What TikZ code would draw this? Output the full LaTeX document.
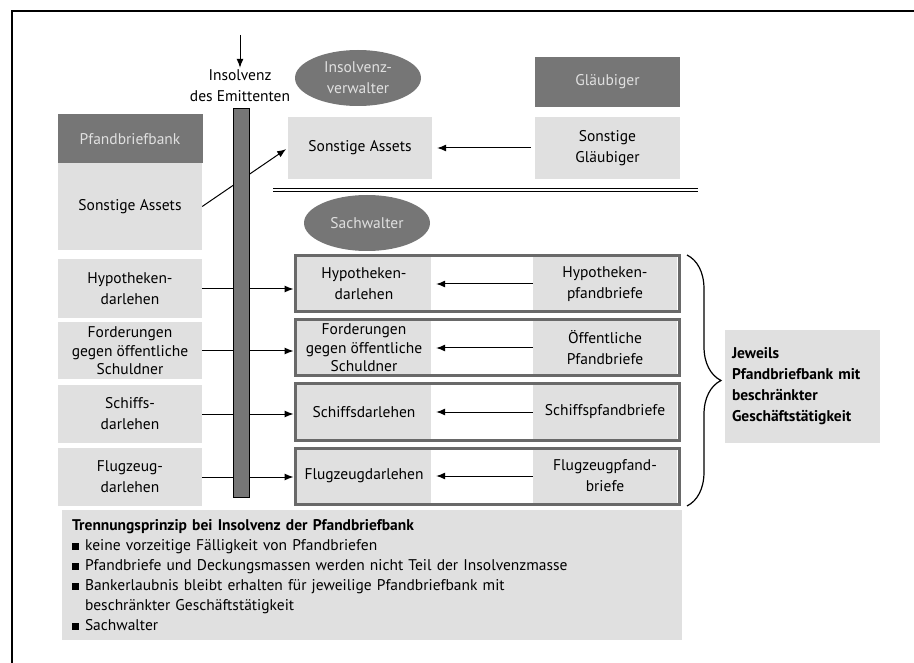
\documentclass[tikz,border=0pt]{standalone}
\usepackage{fontspec}
\setmainfont{PT Sans}
\usetikzlibrary{shapes,arrows.meta,decorations.pathreplacing}
\definecolor{pb_dark}{RGB}{118,118,118}
\definecolor{pb_light}{RGB}{224,224,224}
\definecolor{pb_frame}{RGB}{105,105,105}
\tikzstyle{hd}=[rectangle,fill=pb_dark,text=pb_light,inner sep=0pt,
  minimum width=145pt,minimum height=49pt]
\tikzstyle{lb}=[rectangle,fill=pb_light,align=center,inner sep=0pt,
  minimum width=144pt]
\tikzstyle{ov}=[ellipse,fill=pb_dark,text=pb_light,align=center,inner sep=0pt,
  minimum width=126pt,minimum height=56pt]
\tikzstyle{fr}=[rectangle,draw=pb_frame,fill=white,line width=3pt,
  minimum width=384pt,minimum height=56pt]
\tikzstyle{cell}=[rectangle,fill=pb_light,align=center,inner sep=0pt,
  minimum height=53pt]
\tikzstyle{tight}=[font=\fontsize{15.5}{18.5}\selectfont]
\tikzstyle{arr}=[-{Latex[length=9pt,width=7pt]},line width=1pt]
\newcommand{\pbbullet}{\makebox[13pt][l]{\rule[0.5pt]{6.5pt}{6.5pt}}}

\begin{document}
\begin{tikzpicture}[x=1pt,y=-1pt,font=\fontsize{15.5}{21}\selectfont]
    \useasboundingbox (0,0) rectangle (914,663);
    \coordinate (c00) at (12,11);
    \coordinate (c10) at (914,11);
    \coordinate (c01) at (12,663);
    \draw [line width=1.2pt] (c10) -- (c00) -- (c01);
    % Pfandbriefbank
    \node [style=hd] (pbank) at (130,139) {Pfandbriefbank};
    \node [style=lb,minimum height=87pt] (sal) at (130,206.5) {Sonstige Assets};
    \node [style=lb,minimum height=59pt] (hypl) at (130,289) {Hypotheken-\\darlehen};
    \node [style=lb,style=tight,minimum height=57pt] (fordl) at (130,351) {Forderungen\\gegen öffentliche\\Schuldner};
    \node [style=lb,minimum height=57pt] (schl) at (130,414) {Schiffs-\\darlehen};
    \node [style=lb,minimum height=58pt] (flugl) at (130,477) {Flugzeug-\\darlehen};
    % insolvency
    \coordinate (hit) at (240,35);
    \node [align=center,inner sep=2pt] (emit) at (240,86) {Insolvenz\\des Emittenten};
    \draw [arr] (hit) to (emit.north);
    % insolvency estate
    \node [style=ov] (iv) at (358,78) {Insolvenz-\\verwalter};
    \node [style=lb,minimum height=62pt] (sat) at (360,148) {Sonstige Assets};
    \node [style=hd,minimum height=50pt] (glb) at (607.5,82) {Gläubiger};
    \node [style=lb,minimum width=145pt,minimum height=62pt] (sgl) at (607.5,148) {Sonstige\\Gläubiger};
    \draw [arr,shorten <=4pt,shorten >=5pt] (sgl.west) to (sat.east);
    \draw [arr,shorten >=2pt] (sal.east) to (sat.west);
    \coordinate (sepl) at (273,190);
    \coordinate (sepr) at (698,190);
    \draw [double,double distance=2pt,line width=1pt] (sepl) to (sepr);
    % cover pools
    \node [style=ov] (sw) at (367,223) {Sachwalter};
    \node [style=fr] (hypf) at (487,284) {};
    \node [style=fr] (fordf) at (487,348) {};
    \node [style=fr] (schf) at (487,412) {};
    \node [style=fr] (flugf) at (487,476) {};
    \node [style=cell,minimum width=134pt] (hypd) at (364,284) {Hypotheken-\\darlehen};
    \node [style=cell,minimum width=144pt] (hypp) at (605,284) {Hypotheken-\\pfandbriefe};
    \node [style=cell,style=tight,minimum width=134pt] (fordd) at (364,348) {Forderungen\\gegen öffentliche\\Schuldner};
    \node [style=cell,minimum width=144pt] (fordp) at (605,348) {Öffentliche\\Pfandbriefe};
    \node [style=cell,minimum width=134pt] (schd) at (364,412) {Schiffsdarlehen};
    \node [style=cell,minimum width=144pt] (schp) at (605,412) {Schiffspfandbriefe};
    \node [style=cell,minimum width=134pt] (flugd) at (364,476) {Flugzeugdarlehen};
    \node [style=cell,minimum width=144pt] (flugp) at (605,476) {Flugzeugpfand-\\briefe};
    \draw [arr,shorten >=5pt] (hypp.west) to (hypd.east);
    \draw [arr,shorten >=5pt] (fordp.west) to (fordd.east);
    \draw [arr,shorten >=5pt] (schp.west) to (schd.east);
    \draw [arr,shorten >=5pt] (flugp.west) to (flugd.east);
    \draw [arr] (hypl.east) to (hypl.east -| hypf.west);
    \draw [arr] (fordl.east) to (fordl.east -| fordf.west);
    \draw [arr] (schl.east) to (schl.east -| schf.west);
    \draw [arr] (flugl.east) to (flugl.east -| flugf.west);
    \node [rectangle,fill=pb_dark,draw=black,line width=0.6pt,minimum width=16pt,
      minimum height=389pt,inner sep=0pt] (wall) at (241,302.5) {};
    % brace
    \coordinate (bt) at (687,255);
    \coordinate (bb) at (687,506);
    \draw [decorate,decoration={brace,amplitude=34pt},line width=1.2pt] (bt) -- (bb);
    \node [rectangle,fill=pb_light,align=left,font=\fontsize{15.5}{21}\selectfont\bfseries,
      text width=141pt,inner xsep=7pt,minimum height=113pt] (jew) at (802.5,386.5)
      {Jeweils\\Pfandbriefbank mit\\beschränkter\\Geschäftstätigkeit};
    % separation principle
    \node [rectangle,fill=pb_light,align=left,text width=600pt,inner xsep=10pt,
      minimum height=130pt] (trenn) at (372,575)
      {\textbf{Trennungsprinzip bei Insolvenz der Pfandbriefbank}\\[-1pt]
       \pbbullet keine vorzeitige Fälligkeit von Pfandbriefen\\[-1pt]
       \pbbullet Pfandbriefe und Deckungsmassen werden nicht Teil der Insolvenzmasse\\[-1pt]
       \pbbullet Bankerlaubnis bleibt erhalten für jeweilige Pfandbriefbank mit\\[-1pt]
       \hspace*{13pt}beschränkter Geschäftstätigkeit\\[-1pt]
       \pbbullet Sachwalter};
  \end{tikzpicture}
\end{document}
